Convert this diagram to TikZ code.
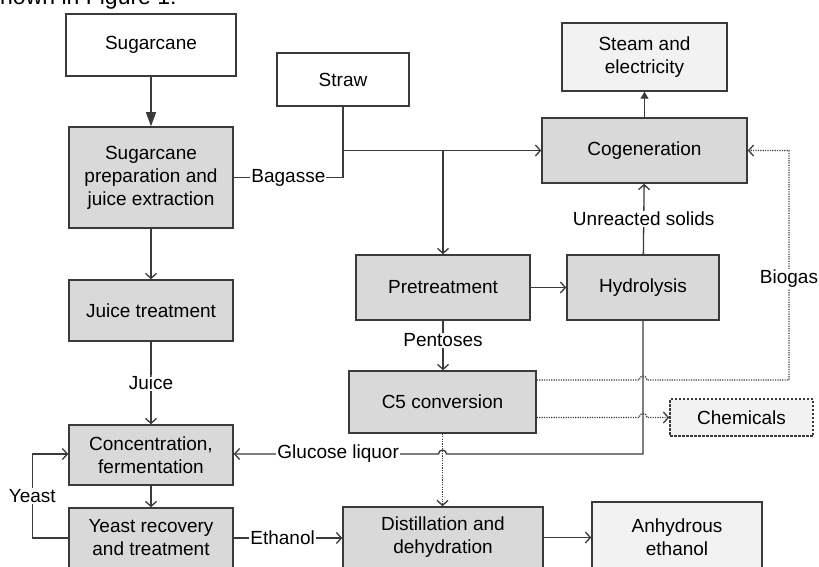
\documentclass[tikz,border=0pt]{standalone}
\usepackage{fontspec}
\setmainfont{Liberation Sans}
\usetikzlibrary{arrows.meta,positioning,calc}
\definecolor{boxgray}{HTML}{D9D9D9}
\definecolor{boxlight}{HTML}{F2F2F2}
\definecolor{linegray}{HTML}{3A3A3A}

\begin{document}
\begin{tikzpicture}[
    x=1pt, y=-1pt,
    font=\fontsize{19}{23}\selectfont,
    box/.style={draw=linegray, line width=1.5pt, align=center, inner sep=2pt},
    proc/.style={box, fill=boxgray},
    feed/.style={box, fill=white},
    prod/.style={box, fill=boxlight},
    lbl/.style={fill=white, inner sep=1pt},
    line/.style={draw=linegray, line width=1.3pt},
    arrow/.style={line, -{Straight Barb[length=5pt, width=11pt]}},
    darrow/.style={arrow, dash pattern=on 1.2pt off 1.2pt},
    bigarrow/.style={line, -{Triangle[length=14pt, width=10pt]}},
    smallarrow/.style={line, -{Triangle[length=7pt, width=8pt]}}
]
\useasboundingbox (0,0) rectangle (819,567);
\clip (0,0) rectangle (819,567);

% text line cut off above the figure
\node[anchor=base west, inner sep=0, font=\fontsize{23}{27}\selectfont] (caption) at (0,5) {hown in Figure 1:};

% sugar route (left)
\node[feed, minimum width=170, minimum height=62] (sugarcane) at (151,45) {Sugarcane};
\node[proc, minimum width=164, minimum height=101] (prep) at (151,177.5) {Sugarcane\\preparation and\\juice extraction};
\node[proc, minimum width=164, minimum height=61] (juicet) at (151,310.5) {Juice treatment};
\node[proc, minimum width=164, minimum height=60] (conc) at (151,455) {Concentration,\\fermentation};
\node[proc, minimum width=164, minimum height=60] (yeastrec) at (151,538) {Yeast recovery\\and treatment};

% biomass route (right)
\node[feed, minimum width=132, minimum height=53] (straw) at (343,79.5) {Straw};
\node[prod, minimum width=165, minimum height=68] (steam) at (644.5,57) {Steam and\\electricity};
\node[proc, minimum width=205, minimum height=65] (cogen) at (644.5,150.5) {Cogeneration};
\node[proc, minimum width=174, minimum height=65] (pretreat) at (443,287.5) {Pretreatment};
\node[proc, minimum width=152, minimum height=65] (hydro) at (643,287.5) {Hydrolysis};
\node[proc, minimum width=187, minimum height=62] (c5) at (442.5,402) {C5 conversion};
\node[prod, minimum width=143, minimum height=37, dash pattern=on 2.5pt off 1.5pt] (chem) at (741.5,417.5) {Chemicals};
\node[proc, minimum width=200, minimum height=61] (dist) at (443,537.5) {Distillation and\\dehydration};
\node[prod, minimum width=170, minimum height=70] (anhyd) at (677,537) {Anhydrous\\ethanol};

% junctions
\coordinate (bagj) at (straw.south |- prep.east);
\coordinate (bgc) at (789,380);
\coordinate (glc) at (643,454);

% left column
\draw[bigarrow] (sugarcane) -- (prep);
\draw[arrow] (prep) -- (juicet);
\draw[arrow] (juicet) -- node[lbl] {Juice} (conc);
\draw[arrow] (conc) -- (yeastrec);
\draw[arrow] (yeastrec.west) -- ++(-36,0) -- node[lbl] {Yeast} ++(0,-84) -- ([yshift=1pt]conc.west);
\draw[arrow] (yeastrec.east) -- node[lbl, pos=0.45] {Ethanol} (yeastrec.east -| dist.west);
\draw[arrow] (dist.east) -- (dist.east -| anhyd.west);

% bagasse and straw
\draw[line] (prep.east) -- node[lbl] {Bagasse} (bagj) -- (straw.south);
\draw[arrow] (straw.south |- cogen.west) -- (cogen.west);
\draw[arrow] (pretreat.north |- cogen.west) -- (pretreat.north);
\draw[smallarrow] (cogen) -- (steam);
\draw[arrow] (pretreat) -- (hydro);
\draw[arrow] (hydro) -- node[lbl] {Unreacted solids} (cogen);
\draw[arrow] (pretreat.south) -- node[lbl, pos=0.4] {Pentoses} (pretreat.south |- c5.north);

% glucose liquor with a hop over the dotted line
\draw[arrow] (hydro.south) -- (glc) -- ([xshift=4pt]c5.south |- glc)
    arc[start angle=0, end angle=180, radius=4pt]
    -- node[lbl, pos=0.49] {Glucose liquor} (conc.east |- glc);
\draw[darrow] (c5.south) -- (c5.south |- dist.north);

% dotted streams from C5 conversion
\draw[darrow] ([yshift=22pt]c5.east) -- ([xshift=-4pt]hydro.south |- bgc)
    arc[start angle=180, end angle=0, radius=4pt]
    -- (bgc) -- node[lbl, pos=0.44] {Biogas} (bgc |- cogen.east) -- (cogen.east);
\draw[darrow] (c5.east |- chem.west) -- ([xshift=-4pt]hydro.south |- chem.west)
    arc[start angle=180, end angle=0, radius=4pt] -- (chem.west);
\end{tikzpicture}
\end{document}
